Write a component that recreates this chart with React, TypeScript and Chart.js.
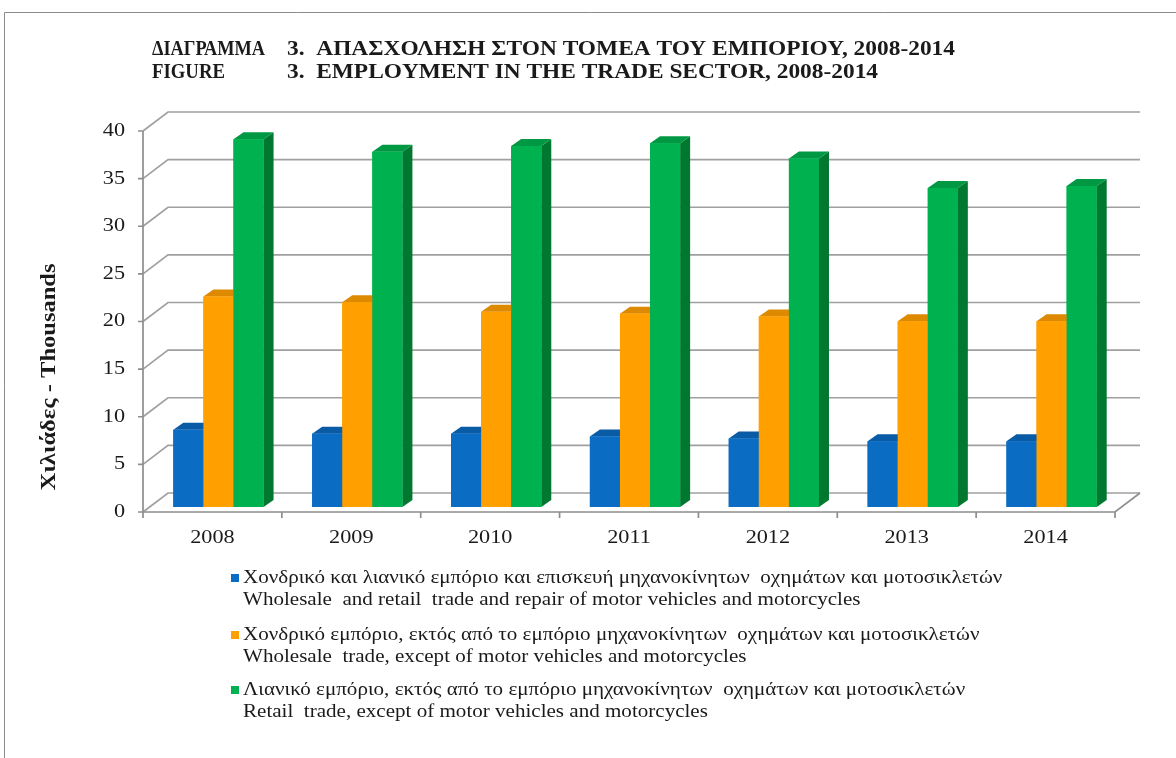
import React, { useEffect, useRef } from "react";
import { Chart, registerables } from "chart.js";

Chart.register(...registerables);

// ---------- data ----------
const years = ["2008", "2009", "2010", "2011", "2012", "2013", "2014"];
const motorTradeRepair = [8.1, 7.7, 7.7, 7.4, 7.2, 6.9, 6.9];
const wholesaleTrade = [22.1, 21.5, 20.5, 20.3, 20.0, 19.5, 19.5];
const retailTrade = [38.6, 37.3, 37.9, 38.2, 36.6, 33.5, 33.7];
const yTickValues = [0, 5, 10, 15, 20, 25, 30, 35, 40];

const seriesGreek = [
  "Χονδρικό και λιανικό εμπόριο και επισκευή μηχανοκίνητων  οχημάτων και μοτοσικλετών",
  "Χονδρικό εμπόριο, εκτός από το εμπόριο μηχανοκίνητων  οχημάτων και μοτοσικλετών",
  "Λιανικό εμπόριο, εκτός από το εμπόριο μηχανοκίνητων  οχημάτων και μοτοσικλετών",
];
const seriesEnglish = [
  "Wholesale  and retail  trade and repair of motor vehicles and motorcycles",
  "Wholesale  trade, except of motor vehicles and motorcycles",
  "Retail  trade, except of motor vehicles and motorcycles",
];
const titleLabels = ["ΔΙΑΓΡΑΜΜΑ", "FIGURE"];
const titleTexts = [
  "3.  ΑΠΑΣΧΟΛΗΣΗ ΣΤΟΝ ΤΟΜΕΑ ΤΟΥ ΕΜΠΟΡΙΟΥ, 2008-2014",
  "3.  EMPLOYMENT IN THE TRADE SECTOR, 2008-2014",
];
const yAxisTitle = "Χιλιάδες - Thousands";

// ---------- styles ----------
const FONT = "'Liberation Serif', 'Times New Roman', serif";
const frontColors = ["#0B6CC3", "#FFA000", "#00B150"];
const topColors = ["#0A5BA6", "#DE8A00", "#009842"];
const sideColors = ["#064A88", "#B97300", "#00782F"];
const GRID = "#a0a0a0";
const TEXT = "#1a1a1a";
const STRETCH = 1.17; // horizontal text stretch of the original picture

// 3D plane offsets relative to the bar plane (chart area)
const FX = -6, FY = 5; // front plane
const BX = 19, BY = -14; // back wall
const DX = 10, DY = -7; // bar depth

function drawStretched(ctx: any, text: string, x: number, y: number, sx: number, align = "left") {
  ctx.save();
  ctx.translate(x, y);
  ctx.scale(sx, 1);
  ctx.textAlign = align;
  ctx.fillText(text, 0, 0);
  ctx.restore();
}

function drawFitted(ctx: any, text: string, x0: number, x1: number, y: number) {
  const w = ctx.measureText(text).width;
  drawStretched(ctx, text, x0, y, (x1 - x0) / w, "left");
}

const wallsPlugin = {
  id: "walls3d",
  beforeDatasetsDraw(chart: any) {
    const { ctx, chartArea, scales } = chart;
    const { left, right, bottom } = chartArea;
    const y = scales.y;
    ctx.save();
    ctx.strokeStyle = GRID;
    ctx.lineWidth = 1.7;
    ctx.beginPath();
    for (const v of yTickValues) {
      const py = y.getPixelForValue(v);
      ctx.moveTo(left + FX, py + FY);
      ctx.lineTo(left + BX, py + BY);
      ctx.lineTo(right + BX, py + BY);
    }
    ctx.stroke();
    ctx.strokeStyle = "#8e8e8e";
    ctx.beginPath();
    ctx.moveTo(left + FX, y.getPixelForValue(40) + FY);
    ctx.lineTo(left + FX, bottom + FY);
    ctx.lineTo(right + FX, bottom + FY);
    ctx.lineTo(right + BX, bottom + BY);
    for (const v of yTickValues) {
      const py = y.getPixelForValue(v);
      ctx.moveTo(left + FX - 5, py + FY);
      ctx.lineTo(left + FX, py + FY);
    }
    const n = years.length;
    for (let i = 0; i <= n; i++) {
      const px = left + (i * (right - left)) / n;
      ctx.moveTo(px + FX, bottom + FY);
      ctx.lineTo(px + FX, bottom + FY + 6);
    }
    ctx.stroke();
    ctx.restore();
  },
  afterDatasetsDraw(chart: any) {
    const { ctx } = chart;
    const metas = [0, 1, 2].map((i) => chart.getDatasetMeta(i));
    ctx.save();
    for (let c = 0; c < years.length; c++) {
      metas.forEach((meta: any, d: number) => {
        const el = meta.data[c];
        if (!el) return;
        const { x, y, base, width } = el.getProps(["x", "y", "base", "width"], true);
        const l = x - width / 2;
        const r = x + width / 2;
        ctx.fillStyle = sideColors[d];
        ctx.beginPath();
        ctx.moveTo(r, y);
        ctx.lineTo(r + DX, y + DY);
        ctx.lineTo(r + DX, base + DY);
        ctx.lineTo(r, base);
        ctx.closePath();
        ctx.fill();
        ctx.fillStyle = topColors[d];
        ctx.beginPath();
        ctx.moveTo(l, y);
        ctx.lineTo(l + DX, y + DY);
        ctx.lineTo(r + DX, y + DY);
        ctx.lineTo(r, y);
        ctx.closePath();
        ctx.fill();
        ctx.fillStyle = frontColors[d];
        ctx.fillRect(l, y, width, base - y);
      });
    }
    ctx.restore();
  },
  afterDraw(chart: any) {
    const { ctx, scales, chartArea } = chart;
    ctx.save();
    // outer frame
    ctx.strokeStyle = "#8a8a8a";
    ctx.lineWidth = 1;
    ctx.beginPath();
    ctx.moveTo(4.5, 758);
    ctx.lineTo(4.5, 12.5);
    ctx.lineTo(1176, 12.5);
    ctx.stroke();

    ctx.fillStyle = TEXT;
    ctx.textBaseline = "middle";

    // tick labels (positions from the chart's scales)
    ctx.font = `19px ${FONT}`;
    scales.y.ticks.forEach((t: any, i: number) => {
      const py = scales.y.getPixelForTick(i) + FY;
      drawStretched(ctx, String(t.value), chartArea.left + FX - 18, py, STRETCH, "right");
    });
    years.forEach((lab, i) => {
      const px = scales.x.getPixelForTick(i) + FX;
      drawStretched(ctx, lab, px, chartArea.bottom + 31, STRETCH, "center");
    });

    // title
    ctx.font = `bold 20px ${FONT}`;
    const titleY = [50, 73];
    drawFitted(ctx, titleLabels[0], 152, 265, titleY[0]);
    drawFitted(ctx, titleLabels[1], 152, 225, titleY[1]);
    drawFitted(ctx, titleTexts[0], 287, 955, titleY[0]);
    drawFitted(ctx, titleTexts[1], 287, 878, titleY[1]);

    // y axis title
    ctx.save();
    ctx.translate(50, 377);
    ctx.rotate(-Math.PI / 2);
    ctx.font = `bold 20px ${FONT}`;
    const w = ctx.measureText(yAxisTitle).width;
    ctx.scale(227 / w, 1);
    ctx.textAlign = "center";
    ctx.fillText(yAxisTitle, 0, 0);
    ctx.restore();

    // legend
    const rowY = [578, 635, 690];
    ctx.font = `18px ${FONT}`;
    rowY.forEach((ry, i) => {
      ctx.fillStyle = frontColors[i];
      ctx.fillRect(231, ry - 4, 8, 8);
      ctx.fillStyle = TEXT;
      drawStretched(ctx, seriesGreek[i], 243, ry, STRETCH);
      drawStretched(ctx, seriesEnglish[i], 243, ry + 22, STRETCH);
    });
    ctx.restore();
  },
};

export default function App() {
  const ref = useRef<HTMLCanvasElement | null>(null);
  useEffect(() => {
    if (!ref.current) return;
    const chart = new Chart(ref.current, {
      type: "bar",
      data: {
        labels: years,
        datasets: [
          { label: seriesEnglish[0], data: motorTradeRepair, backgroundColor: frontColors[0], borderWidth: 0 },
          { label: seriesEnglish[1], data: wholesaleTrade, backgroundColor: frontColors[1], borderWidth: 0 },
          { label: seriesEnglish[2], data: retailTrade, backgroundColor: frontColors[2], borderWidth: 0 },
        ],
      },
      options: {
        animation: false,
        responsive: false,
        events: [],
        layout: { padding: { left: 89, right: 55, top: 126, bottom: 201 } },
        datasets: { bar: { categoryPercentage: 0.65, barPercentage: 1 } },
        plugins: {
          legend: { display: false },
          tooltip: { enabled: false },
          title: { display: false },
        },
        scales: {
          x: {
            grid: { display: false, drawTicks: false },
            border: { display: false },
            ticks: { display: false },
            afterFit: (s: any) => { s.height = 50; },
          },
          y: {
            min: 0,
            max: 40,
            grid: { display: false, drawTicks: false },
            border: { display: false },
            ticks: { display: false, stepSize: 5 },
            afterFit: (s: any) => { s.width = 60; },
          },
        },
      },
      plugins: [wallsPlugin],
    });
    return () => chart.destroy();
  }, []);
  return (
    <div style={{ position: "absolute", left: 0, top: 0, width: 1176, height: 758, background: "#fff" }}>
      <canvas ref={ref} width={1176} height={758} />
    </div>
  );
}
